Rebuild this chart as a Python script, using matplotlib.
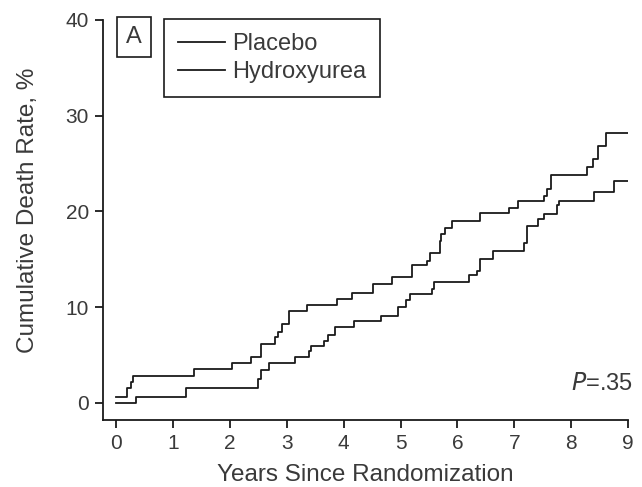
import matplotlib.pyplot as plt

# step curves (years, cumulative %)
placebo_t = [0, 0.18, 0.25, 0.29, 1.37, 2.03, 2.37, 2.55, 2.79, 2.84, 2.91, 3.04, 3.36, 3.88,
             4.14, 4.52, 4.85, 5.21, 5.47, 5.51, 5.70, 5.72, 5.78, 5.91, 6.39, 6.91, 7.06,
             7.53, 7.57, 7.65, 8.28, 8.39, 8.47, 8.62, 9.0]
placebo_y = [0.6, 1.5, 2.2, 2.8, 3.5, 4.2, 4.8, 6.1, 6.9, 7.4, 8.2, 9.6, 10.2, 10.8,
             11.5, 12.4, 13.1, 14.4, 14.8, 15.6, 16.9, 17.6, 18.3, 19.0, 19.8, 20.4, 21.1,
             21.6, 22.3, 23.8, 24.6, 25.5, 26.8, 28.2, 28.2]

hydroxy_t = [0, 0.34, 1.22, 2.50, 2.54, 2.69, 3.14, 3.39, 3.43, 3.65, 3.72, 3.84, 4.18,
             4.66, 4.95, 5.10, 5.16, 5.56, 5.59, 6.20, 6.35, 6.39, 6.62, 7.18, 7.22, 7.23,
             7.41, 7.53, 7.76, 7.79, 8.41, 8.76, 9.0]
hydroxy_y = [0, 0.6, 1.5, 2.5, 3.4, 4.2, 4.8, 5.4, 5.9, 6.5, 7.1, 7.9, 8.5,
             9.1, 10.0, 10.7, 11.4, 11.9, 12.6, 13.3, 13.8, 15.0, 15.9, 16.7, 17.9, 18.5,
             19.2, 19.7, 20.7, 21.1, 22.0, 23.2, 23.2]

x_ticks = list(range(0, 10))
y_ticks = [0, 10, 20, 30, 40]

txt = '#3a3a3a'
plt.rcParams['font.family'] = ['Liberation Sans', 'DejaVu Sans']

fig = plt.figure(figsize=(6.42, 4.87), dpi=100)
ax = fig.add_axes([0.160, 0.1376, 0.818, 0.8214])

ax.step(placebo_t, placebo_y, where='post', color='#1a1a1a', lw=1.3, label='Placebo')
ax.step(hydroxy_t, hydroxy_y, where='post', color='#1a1a1a', lw=1.3, label='Hydroxyurea')

ax.set_xlim(-0.24, 9)
ax.set_ylim(-1.8, 40)
ax.set_xticks(x_ticks)
ax.set_yticks(y_ticks)
for s in ['top', 'right']:
    ax.spines[s].set_visible(False)
for s in ['left', 'bottom']:
    ax.spines[s].set_linewidth(1.3)
    ax.spines[s].set_color('#1a1a1a')
ax.tick_params(direction='out', length=6, width=1.3, color='#1a1a1a',
               labelsize=15, labelcolor=txt, pad=4)

ax.set_xlabel('Years Since Randomization', fontsize=17.5, color=txt, labelpad=8)
ax.set_ylabel('Cumulative Death Rate, %', fontsize=17.5, color=txt)
ax.yaxis.set_label_coords(-0.122, 0.525)

ax.text(0.31, 38.2, 'A', fontsize=17, color=txt, ha='center', va='center',
        bbox=dict(boxstyle='square,pad=0.38', fc='white', ec='#1a1a1a', lw=1.2))

leg = ax.legend(loc='upper left', bbox_to_anchor=(0.116, 1.002), borderaxespad=0,
                fontsize=17, frameon=True, fancybox=False, edgecolor='#1a1a1a', framealpha=1,
                handlelength=2.0, handletextpad=0.3, borderpad=0.6, labelspacing=0.25)
leg.get_frame().set_linewidth(1.2)
for t in leg.get_texts():
    t.set_color(txt)

ax.text(9.08, 2.0, r'$\it{P}$=.35', fontsize=17, color=txt, ha='right', va='center')

fig.savefig('out.png', dpi=100)
